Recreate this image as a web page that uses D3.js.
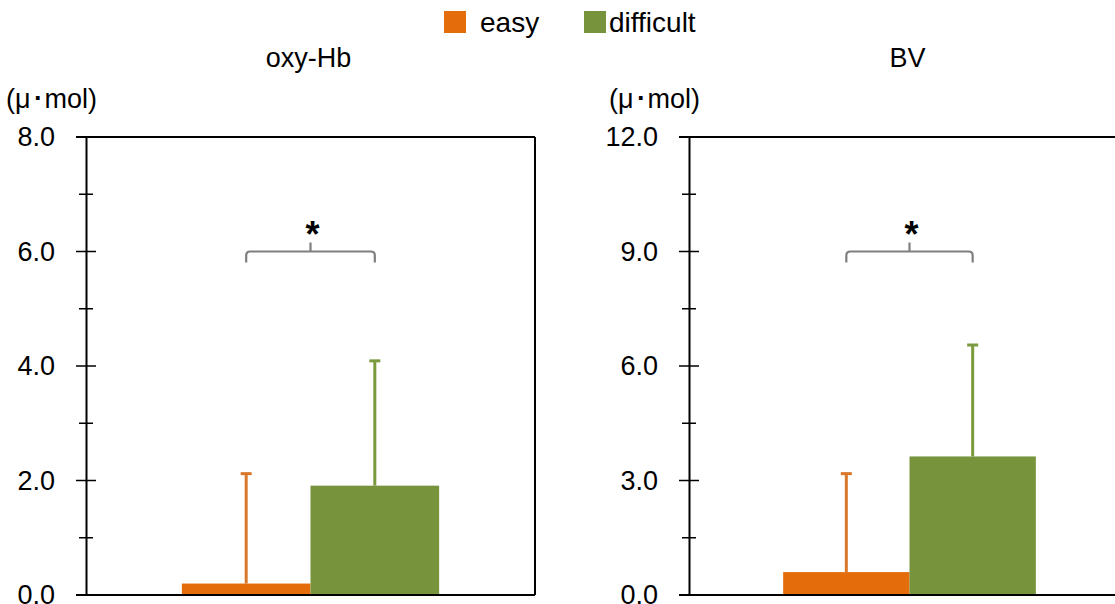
<!DOCTYPE html>
<html>
<head>
<meta charset="utf-8">
<script src="https://cdn.jsdelivr.net/npm/d3@7"></script>
<style>
  html, body { margin: 0; padding: 0; background: #fff; overflow: hidden; }
  svg { display: block; }
  text { font-family: "Liberation Sans", Arial, sans-serif; fill: #000; }
</style>
</head>
<body>
<svg id="chart" width="1115" height="604"></svg>
<script>
// ---- data ----
const categories = ["easy", "difficult"];
const panelTitles = ["oxy-Hb", "BV"];
const unitLabel = "(μ･mol)";
const easyMeans = [0.2, 0.6];
const difficultMeans = [1.91, 3.63];
const easySD = [1.92, 2.58];
const difficultSD = [2.18, 2.92];
const yMax = [8, 12];
const yMajorStep = [2, 3];
const sigLabels = ["*", "*"];
const sigLevel = [6, 9];
const colors = { easy: "#E46C0A", difficult: "#77933C" };
const errColors = { easy: "#D9782D", difficult: "#7A9A3E" };

// ---- layout ----
const svg = d3.select("#chart");
const plotTop = 137, plotBottom = 595;
const panelX = [[86, 535], [689, 1130]];
const FONT = 27;

panelTitles.forEach((title, i) => {
  const [x0, x1] = panelX[i];
  const W = x1 - x0;
  const y = d3.scaleLinear().domain([0, yMax[i]]).range([plotBottom, plotTop]);
  const x = d3.scaleBand().domain(categories)
    .range([x0 + 0.2135 * W, x0 + 0.7865 * W]).padding(0);
  const g = svg.append("g");

  const vals = { easy: easyMeans[i], difficult: difficultMeans[i] };
  const sds = { easy: easySD[i], difficult: difficultSD[i] };

  // bars
  g.selectAll("rect.bar").data(categories).join("rect")
    .attr("x", d => x(d)).attr("width", x.bandwidth())
    .attr("y", d => y(vals[d])).attr("height", d => y(0) - y(vals[d]))
    .attr("fill", d => colors[d]);

  // error bars (upper only)
  categories.forEach(c => {
    const cx = x(c) + x.bandwidth() / 2;
    g.append("line").attr("x1", cx).attr("x2", cx)
      .attr("y1", y(vals[c])).attr("y2", y(vals[c] + sds[c]))
      .attr("stroke", errColors[c]).attr("stroke-width", 3);
    g.append("line").attr("x1", cx - 5.5).attr("x2", cx + 5.5)
      .attr("y1", y(vals[c] + sds[c])).attr("y2", y(vals[c] + sds[c]))
      .attr("stroke", errColors[c]).attr("stroke-width", 3);
  });

  // frame: top, bottom, right
  g.append("line").attr("x1", x0 - 10).attr("x2", x1).attr("y1", plotTop).attr("y2", plotTop)
    .attr("stroke", "#000").attr("stroke-width", 2);
  g.append("line").attr("x1", x0 - 10).attr("x2", x1).attr("y1", plotBottom).attr("y2", plotBottom)
    .attr("stroke", "#000").attr("stroke-width", 2);
  g.append("line").attr("x1", x1).attr("x2", x1).attr("y1", plotTop).attr("y2", plotBottom)
    .attr("stroke", "#000").attr("stroke-width", 2);

  // y axis
  const majors = d3.range(0, yMax[i] + 1e-9, yMajorStep[i]);
  const minors = d3.range(yMajorStep[i] / 2, yMax[i], yMajorStep[i]);
  const axis = d3.axisLeft(y).tickValues(majors).tickFormat(d3.format(".1f"))
    .tickSize(0).tickPadding(31);
  const ag = g.append("g").attr("transform", `translate(${x0},0)`).call(axis);
  ag.select(".domain").attr("stroke", "#000").attr("stroke-width", 2);
  ag.selectAll(".tick text").attr("font-size", FONT)
    .attr("font-family", "Liberation Sans, Arial, sans-serif").attr("fill", "#000");
  g.selectAll("line.major").data(majors).join("line")
    .attr("x1", x0 - 10).attr("x2", x0 + 10)
    .attr("y1", d => y(d)).attr("y2", d => y(d))
    .attr("stroke", "#000").attr("stroke-width", 1.5);
  g.selectAll("line.minor").data(minors).join("line")
    .attr("x1", x0 - 7).attr("x2", x0 + 7)
    .attr("y1", d => y(d)).attr("y2", d => y(d))
    .attr("stroke", "#000").attr("stroke-width", 1.5);

  // title + unit
  g.append("text").attr("x", (x0 + x1) / 2 - 2).attr("y", 67)
    .attr("text-anchor", "middle").attr("font-size", FONT).text(title);
  g.append("text").attr("x", x0 - 80).attr("y", 108)
    .attr("font-size", FONT).text(unitLabel);

  // significance bracket
  const bx1 = x("easy") + x.bandwidth() / 2;
  const bx2 = x("difficult") + x.bandwidth() / 2;
  const by = y(sigLevel[i]);
  const mid = (bx1 + bx2) / 2;
  const r = 4;
  const path = d3.path();
  path.moveTo(bx1, by + 11);
  path.lineTo(bx1, by + r);
  path.quadraticCurveTo(bx1, by, bx1 + r, by);
  path.lineTo(bx2 - r, by);
  path.quadraticCurveTo(bx2, by, bx2, by + r);
  path.lineTo(bx2, by + 11);
  path.moveTo(mid, by);
  path.lineTo(mid, by - 9);
  g.append("path").attr("d", path.toString()).attr("fill", "none")
    .attr("stroke", "#7F7F7F").attr("stroke-width", 2.2);
  g.append("text").attr("x", mid + 2).attr("y", by - 5)
    .attr("text-anchor", "middle").attr("font-size", 36).attr("font-weight", "bold")
    .text(sigLabels[i]);
});

// legend
const legend = svg.append("g");
const legX = [444, 584];
const legTextX = [480, 609];
categories.forEach((c, k) => {
  legend.append("rect").attr("x", legX[k]).attr("y", 11).attr("width", 22).attr("height", 22)
    .attr("fill", colors[c]);
  legend.append("text").attr("x", legTextX[k]).attr("y", 32)
    .attr("font-size", 28).text(c);
});
</script>
</body>
</html>
